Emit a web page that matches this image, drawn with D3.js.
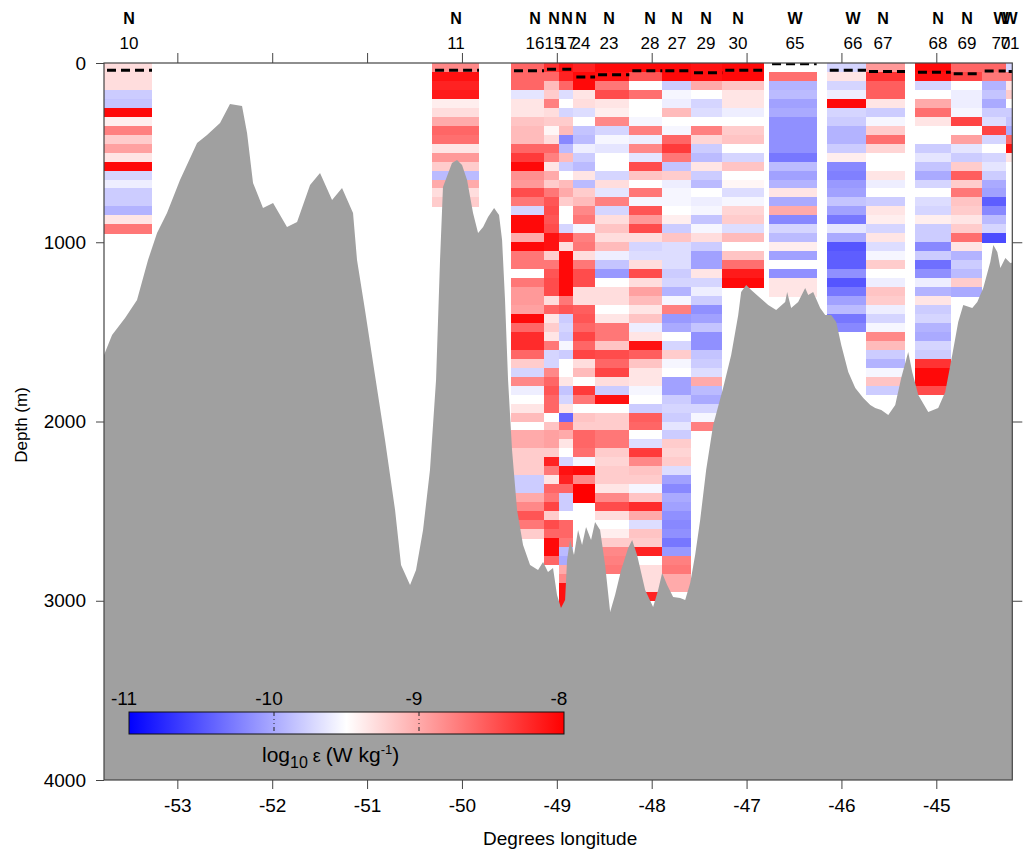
<!DOCTYPE html>
<html>
<head>
<meta charset="utf-8">
<script src="https://cdn.jsdelivr.net/npm/d3@7"></script>
<style>
  html, body { margin: 0; padding: 0; background: #ffffff; }
  svg { display: block; }
  text { font-family: "Liberation Sans", Arial, Helvetica, sans-serif; fill: #000; }
</style>
</head>
<body>
<svg id="chart" width="1024" height="851"></svg>
<script>
// ---- Stations along the section ----
const stationIds   = ["10","11","16","15","17","24","23","28","27","29","30","65","66","67","68","69","70","71"];
const stationTypes = ["N","N","N","N","N","N","N","N","N","N","N","W","W","N","N","N","W","W"];
const stationLon   = [-53.509,-50.063,-49.230,-49.030,-48.893,-48.745,-48.450,-48.018,-47.733,-47.427,-47.090,-46.489,-45.878,-45.562,-44.982,-44.676,-44.318,-44.223];
// longitude span of each profile column
const columnWest   = [-53.773,-50.315,-49.483,-49.135,-48.974,-48.826,-48.597,-48.236,-47.888,-47.586,-47.256,-46.763,-46.155,-45.741,-45.225,-44.848,-44.522,-44.269];
const columnEast   = [-53.267,-49.820,-49.135,-48.974,-48.826,-48.597,-48.236,-47.888,-47.586,-47.256,-46.816,-46.261,-45.741,-45.330,-44.848,-44.522,-44.269,-44.150];
// mixed layer depth (m), dashed line
const mixedLayerDepth = [40,40,43,35,35,78,65,43,43,55,40,4,40,48,52,60,45,48];

// ---- log10 dissipation rate, 50 m bins from the surface ----
const binSize = 50;
const eps10 = [-9.3,-9.3,-9.3,-9.8,-9.85,-8.05,-9.4,-8.75,-9.2,-8.95,-9.35,-8.05,-9.75,-9.6,-9.8,-9.8,-9.95,-9.35,-8.7];
const eps11 = [-8.8,-8.1,-8.2,-8.15,-9.4,-9.3,-9.0,-8.6,-8.65,-9.35,-8.9,-9.2,-9.9,-9.0,-9.3,-9.2];
const eps16 = [-8.6,-8.6,-8.6,-9.65,-9.35,-9.35,-9.15,-9.1,-9.1,-8.6,
               -8.35,-8.05,-8.85,-8.9,-8.45,-8.7,-9.75,-8.05,-8.05,-9.0,
               -8.05,-8.7,-8.7,-9.5,-8.7,-8.9,-8.9,-8.95,-8.05,-8.6,
               -8.25,-8.25,-8.6,-9.2,-9.75,-8.8,-9.6,-9.5,-9.35,-9.1,
               -9.5,-9.0,-9.0,-9.2,-9.2,-9.2,-9.8,-9.8,-9.0,-8.8,
               -8.5,-8.7,-9.2];
const eps15 = [-8.3,-8.6,-9.1,-9.2,-8.75,-9.3,-9.2,-9.45,-9.3,-8.6,
               -8.75,-9.35,-9.0,-9.2,-8.7,-8.5,-8.45,-8.5,-8.45,-8.1,
               -8.1,-9.2,-8.7,-8.5,-8.45,-8.45,-9.3,-8.6,-9.35,-9.2,
               -9.35,-8.7,-9.75,-9.75,-8.8,-8.6,-8.5,-8.6,-8.6,-9.5,
               -9.15,-8.95,-8.95,-9.2,-8.2,-8.7,-9.35,-8.6,-8.7,-8.4,
               -9.2,-8.45,-8.6,-8.05,-8.05,-8.6];
const eps17 = [-8.1,-8.2,-8.6,-9.7,-9.5,-9.75,-9.2,-9.1,-10.2,-9.9,
               -9.1,-9.8,-9.5,-9.1,-9.0,-9.2,-9.5,-9.5,-9.75,-8.35,
               -9.3,-8.05,-8.05,-8.05,-8.05,-8.05,-8.7,-8.5,-9.8,-9.75,
               -9.8,-9.55,-9.8,-9.5,-9.5,-9.35,-9.85,-9.75,-9.35,-10.4,
               -8.7,-9.0,-9.35,-9.5,-9.75,-8.1,-8.2,-8.6,-9.8,-9.8,
               -9.5,-8.6,-8.6,-8.7,-9.9,-10.0,-9.0,-8.8,-8.1,-8.1,
               -8.1];
const eps24 = [-8.2,-8.05,-8.05,-9.35,-9.3,-9.7,-9.5,-9.85,-9.9,-9.6,
               -9.8,-9.9,-9.35,-9.9,-9.2,-9.1,-8.8,-8.7,-9.55,-8.75,
               -8.7,-9.3,-8.7,-8.45,-8.45,-9.3,-9.3,-8.55,-8.5,-8.6,
               -8.4,-8.6,-8.4,-9.3,-9.1,-9.5,-8.35,-8.7,-9.5,-9.15,
               -9.2,-8.6,-8.6,-8.65,-9.55,-8.05,-8.8,-8.0,-8.0];
const eps23 = [-8.05,-8.1,-8.7,-8.45,-9.35,-9.4,-8.8,-9.75,-9.55,-9.65,
               -9.5,-9.5,-9.75,-9.3,-9.65,-8.75,-9.75,-9.3,-9.15,-9.3,
               -9.1,-9.6,-9.85,-10.1,-9.5,-9.3,-9.3,-9.5,-9.35,-8.7,
               -8.7,-9.15,-8.45,-8.6,-8.4,-9.3,-9.8,-8.1,-9.5,-9.2,
               -9.2,-8.7,-8.7,-9.2,-9.25,-9.2,-9.2,-9.35,-8.8,-8.45,
               -9.3,-9.5,-9.4,-9.2,-8.8,-8.75,-8.7];
const eps28 = [-8.05,-8.5,-9.5,-8.65,-9.5,-9.5,-9.55,-8.75,-9.6,-8.8,
               -9.65,-8.45,-9.15,-9.5,-8.7,-9.55,-8.5,-8.9,-8.45,-9.3,
               -9.75,-9.7,-9.3,-8.45,-9.3,-8.95,-9.1,-9.35,-9.15,-9.6,
               -9.35,-8.1,-8.55,-9.15,-9.35,-9.35,-9.55,-9.5,-9.8,-8.55,
               -8.6,-9.5,-9.7,-8.35,-8.8,-9.15,-9.2,-9.55,-9.15,-8.25,
               -9.0,-9.7,-9.15,-9.2,-8.2,-9.5,-9.3,-9.3,-9.3,-8.2];
const eps27 = [-8.05,-8.05,-9.8,-9.55,-9.6,-9.1,-9.5,-9.55,-8.6,-8.35,
               -8.7,-9.85,-9.2,-9.6,-9.55,-9.55,-9.5,-9.4,-9.8,-9.15,
               -9.7,-9.7,-9.7,-9.8,-9.75,-9.95,-9.55,-8.75,-10.1,-10.0,
               -9.5,-9.75,-9.2,-9.55,-9.5,-10.05,-10.05,-9.8,-9.75,-9.8,
               -9.65,-9.8,-9.2,-9.25,-9.2,-9.7,-10.05,-10.2,-10.0,-10.05,
               -10.15,-10.2,-10.15,-10.3,-10.1,-8.75,-8.7,-9.0,-9.0];
const eps29 = [-8.1,-8.1,-9.0,-9.5,-9.75,-9.7,-9.5,-8.75,-9.25,-9.8,
               -9.9,-9.35,-9.8,-9.9,-9.5,-9.6,-9.55,-9.85,-9.55,-9.3,
               -9.8,-10.05,-10.05,-9.35,-9.75,-9.6,-9.8,-10.15,-10.05,-9.85,
               -10.15,-10.15,-9.85,-9.8,-9.7,-9.0,-9.9,-10.0,-9.75,-9.55,
               -8.75];
const eps30 = [-8.05,-8.05,-9.15,-9.35,-9.35,-9.6,-9.5,-9.2,-9.15,-9.5,
               -9.75,-9.15,-9.5,-9.45,-9.7,-9.55,-9.25,-9.2,-9.7,-9.1,
               -9.5,-9.15,-8.65,-8.15,-8.05];
const eps65 = [null,-8.65,-9.95,-9.9,-10.05,-10.0,-10.15,-10.15,-10.15,-10.15,
               -10.3,-9.9,-10.05,-9.95,-9.35,-10.0,-9.0,-10.2,-9.75,-9.9,
               -9.4,-10.05,-9.5,-10.15,-9.35,-9.35];
const eps66 = [-9.75,-9.35,-9.75,-9.6,-8.05,-9.75,-9.8,-9.95,-9.95,-9.8,
               -9.4,-10.2,-10.25,-10.1,-10.05,-9.85,-10.05,-10.3,-9.65,-10.0,
               -10.5,-10.45,-10.45,-10.15,-10.5,-10.3,-10.05,-9.9,-10.3,-10.2];
const eps67 = [-8.9,-8.3,-8.55,-8.55,-9.35,-9.8,-9.55,-9.2,-8.65,-9.25,
               -9.5,-9.5,-9.35,-9.6,-9.5,-9.8,-9.35,-9.4,-9.75,-9.35,
               -9.7,-9.55,-9.2,-9.5,-9.6,-9.15,-9.2,-9.6,-9.75,-9.55,
               -8.8,-9.1,-9.8,-9.95,-9.55,-9.15,-9.8];
const eps68 = [-8.05,-8.1,-9.75,-9.5,-9.0,-8.65,-9.35,-9.5,-9.5,-9.8,
               -9.65,-9.85,-10.0,-9.75,-9.5,-9.7,-9.75,-9.4,-9.8,-9.8,
               -10.2,-9.8,-10.35,-10.15,-9.6,-9.95,-9.35,-9.8,-9.75,-9.95,
               -10.0,-9.75,-9.8,-8.3,-8.05,-8.05,-8.45];
const eps69 = [-8.6,-8.4,-9.5,-9.6,-9.6,-9.55,-8.4,-9.5,-8.95,-9.65,
               -9.8,-9.2,-8.55,-9.2,-8.7,-9.15,-9.2,-9.35,-9.2,-8.65,
               -9.35,-9.95,-9.8,-9.9,-9.2,-10.0];
const eps70 = [-8.6,-8.7,-9.95,-9.85,-10.0,-9.8,-9.7,-8.4,-9.75,-9.5,
               -9.75,-9.65,-9.8,-10.0,-10.05,-10.45,-10.2,-9.9,-9.75,-10.55];
const eps71 = [-9.75,-8.7,-9.35,-9.2,-9.5,-9.8,-9.85,-10.0,-8.6,-8.1,-9.35];
const epsilonProfiles = [eps10,eps11,eps16,eps15,eps17,eps24,eps23,eps28,eps27,eps29,eps30,eps65,eps66,eps67,eps68,eps69,eps70,eps71];

// ---- Seafloor depth along the section ----
const bathyLon = [-53.773,-53.688,-53.551,-53.425,-53.309,-53.214,-53.109,-52.972,-52.792,-52.687,
                  -52.550,-52.445,-52.318,-52.265,-52.202,-52.097,-51.991,-51.844,-51.738,-51.601,
                  -51.496,-51.369,-51.264,-51.148,-51.106,-51.022,-50.917,-50.811,-50.705,-50.642,
                  -50.547,-50.484,-50.410,-50.337,-50.273,-50.231,-50.200,-50.105,-50.052,-49.999,
                  -49.946,-49.883,-49.830,-49.777,-49.725,-49.661,-49.609,-49.577,-49.546,-49.514,
                  -49.472,-49.419,-49.356,-49.282,-49.198,-49.145,-49.093,-49.040,-48.998,-48.956,
                  -48.913,-48.892,-48.861,-48.819,-48.776,-48.734,-48.692,-48.639,-48.597,-48.544,
                  -48.491,-48.438,-48.386,-48.322,-48.248,-48.206,-48.154,-48.069,-47.985,-47.932,
                  -47.890,-47.837,-47.774,-47.700,-47.647,-47.594,-47.542,-47.489,-47.426,-47.352,
                  -47.247,-47.162,-47.088,-47.057,-47.004,-46.951,-46.856,-46.772,-46.688,-46.593,
                  -46.572,-46.530,-46.456,-46.382,-46.350,-46.298,-46.224,-46.171,-46.108,-46.055,
                  -46.002,-45.928,-45.854,-45.770,-45.696,-45.644,-45.580,-45.506,-45.433,-45.370,
                  -45.296,-45.254,-45.190,-45.085,-44.980,-44.906,-44.832,-44.769,-44.716,-44.621,
                  -44.568,-44.505,-44.431,-44.399,-44.357,-44.325,-44.272,-44.220,-44.150];
const bathyDepth = [1629,1517,1423,1322,1099,948,837,653,446,402,
                    335,229,240,391,669,809,781,915,887,681,
                    614,764,697,837,1099,1378,1741,2103,2494,2801,
                    2912,2828,2605,2271,1768,1099,692,558,541,569,
                    653,837,948,915,859,809,848,987,1322,1768,
                    2159,2494,2689,2801,2828,2784,2840,2817,2968,3040,
                    2996,2773,2661,2745,2605,2689,2589,2661,2561,2605,
                    2801,3063,2968,2828,2706,2661,2745,2940,3035,2940,
                    2845,2912,2979,2985,2996,2901,2745,2549,2271,2020,
                    1813,1629,1406,1278,1238,1266,1311,1350,1378,1333,
                    1278,1367,1333,1255,1294,1278,1367,1406,1406,1445,
                    1573,1724,1813,1869,1908,1925,1936,1964,1908,1757,
                    1612,1724,1852,1947,1925,1835,1629,1445,1350,1367,
                    1333,1255,1110,1015,1054,1144,1088,1116,1110];

// ---- Axes and colour bar ----
const lonDomain   = [-53.773, -44.199];
const depthDomain = [0, 4000];
const lonTicks    = [-53,-52,-51,-50,-49,-48,-47,-46,-45];
const depthTicks  = [0,1000,2000,3000,4000];
const rightTicks  = [1000,2000,3000];
const cbarDomain  = [-11, -8];
const cbarTicks   = [-11,-10,-9,-8];
const cbarInnerTicks = [-10,-9];

// ---- Drawing ----
const svg = d3.select("#chart");
const plot = {left: 104, right: 1012.3, top: 63, bottom: 780};

const x = d3.scaleLinear().domain(lonDomain).range([plot.left, plot.right]);
const y = d3.scaleLinear().domain(depthDomain).range([plot.top, plot.bottom]);
const color = d3.scaleLinear()
  .domain([-11, -9.5, -8])
  .range(["#0000ff", "#ffffff", "#ff0000"])
  .clamp(true);

svg.append("rect").attr("width", 1024).attr("height", 851).attr("fill", "#ffffff");

svg.append("defs").append("clipPath").attr("id", "plot-clip")
  .append("rect")
  .attr("x", plot.left).attr("y", plot.top)
  .attr("width", plot.right - plot.left).attr("height", plot.bottom - plot.top);

const stations = stationIds.map((id, i) => ({
  id, type: stationTypes[i], lon: stationLon[i],
  west: columnWest[i], east: columnEast[i],
  mld: mixedLayerDepth[i], eps: epsilonProfiles[i]
}));

const plotArea = svg.append("g").attr("clip-path", "url(#plot-clip)");

// profile columns, one rectangle per depth bin
const cells = [];
stations.forEach(s => {
  s.eps.forEach((v, k) => {
    if (v !== null) cells.push({s, k, v});
  });
});
plotArea.append("g").attr("shape-rendering", "crispEdges")
  .selectAll("rect").data(cells).join("rect")
  .attr("x", d => x(d.s.west))
  .attr("width", d => x(d.s.east) - x(d.s.west))
  .attr("y", d => y(d.k * binSize))
  .attr("height", d => y((d.k + 1) * binSize) - y(d.k * binSize) + 0.5)
  .attr("fill", d => color(d.v));

// mixed layer depth markers
plotArea.append("g").selectAll("line").data(stations).join("line")
  .attr("x1", d => x(d.west) + 3)
  .attr("x2", d => x(d.east))
  .attr("y1", d => y(d.mld))
  .attr("y2", d => y(d.mld))
  .attr("stroke", "#000")
  .attr("stroke-width", 3)
  .attr("stroke-dasharray", "9,5");

// seafloor
const bathy = bathyLon.map((lon, i) => ({lon, depth: bathyDepth[i]}));
plotArea.append("path")
  .datum(bathy)
  .attr("fill", "#a0a0a0")
  .attr("stroke", "none")
  .attr("d", d3.area()
    .x(d => x(d.lon))
    .y0(y(depthDomain[1]))
    .y1(d => y(d.depth)));

// colour bar
const cb = {left: 129, right: 564, top: 712, bottom: 734};
const cbx = d3.scaleLinear().domain(cbarDomain).range([cb.left, cb.right]);
const grad = svg.select("defs").append("linearGradient").attr("id", "eps-grad")
  .attr("x1", "0%").attr("x2", "100%").attr("y1", "0%").attr("y2", "0%");
color.domain().forEach(v => {
  grad.append("stop")
    .attr("offset", ((v - cbarDomain[0]) / (cbarDomain[1] - cbarDomain[0]) * 100) + "%")
    .attr("stop-color", color(v));
});
const cbg = svg.append("g");
cbg.append("rect")
  .attr("x", cb.left).attr("y", cb.top)
  .attr("width", cb.right - cb.left).attr("height", cb.bottom - cb.top)
  .attr("fill", "url(#eps-grad)")
  .attr("stroke", "#111").attr("stroke-width", 1);
cbg.selectAll("line.in").data(cbarInnerTicks).join("line")
  .attr("class", "in")
  .attr("x1", d => cbx(d)).attr("x2", d => cbx(d))
  .attr("y1", cb.top).attr("y2", cb.bottom)
  .attr("stroke", "#222").attr("stroke-width", 1)
  .attr("stroke-dasharray", "4,3,1,3,1,3,4");
cbg.selectAll("text.tl").data(cbarTicks).join("text")
  .attr("class", "tl")
  .attr("x", d => cbx(d) - 5)
  .attr("y", 705)
  .attr("text-anchor", "middle")
  .attr("font-size", 19)
  .text(d => String(d));
const cbLabel = cbg.append("text")
  .attr("x", 262).attr("y", 762)
  .attr("font-size", 21);
cbLabel.append("tspan").text("log");
cbLabel.append("tspan").attr("font-size", 16).attr("dy", 6).text("10");
cbLabel.append("tspan").attr("font-size", 18).attr("dy", -6).text(" \u03B5 ");
cbLabel.append("tspan").text(" (W kg");
cbLabel.append("tspan").attr("font-size", 13).attr("dy", -8).text("-1");
cbLabel.append("tspan").attr("dy", 8).text(")");

// axes
const axisColor = "#444";
function styleAxis(g) {
  g.select(".domain").remove();
  g.selectAll(".tick line").attr("stroke", axisColor);
  g.selectAll(".tick text").attr("fill", "#000").attr("font-size", 19)
    .attr("font-family", "'Liberation Sans', Arial, Helvetica, sans-serif");
}
svg.append("g").attr("transform", `translate(0,${plot.bottom})`)
  .call(d3.axisBottom(x).tickValues(lonTicks).tickSize(9).tickSizeOuter(0).tickPadding(10)
    .tickFormat(d => String(d)))
  .call(styleAxis);
svg.append("g").attr("transform", `translate(0,${plot.top})`)
  .call(d3.axisTop(x).tickValues(lonTicks).tickSize(10).tickSizeOuter(0).tickFormat(""))
  .call(styleAxis);
svg.append("g").attr("transform", `translate(${plot.left},0)`)
  .call(d3.axisLeft(y).tickValues(depthTicks).tickSize(8).tickSizeOuter(0).tickPadding(10)
    .tickFormat(d => String(d)))
  .call(styleAxis);
svg.append("g").attr("transform", `translate(${plot.right},0)`)
  .call(d3.axisRight(y).tickValues(rightTicks).tickSize(10).tickSizeOuter(0).tickFormat(""))
  .call(styleAxis);

// plot frame
svg.append("rect")
  .attr("x", plot.left).attr("y", plot.top)
  .attr("width", plot.right - plot.left).attr("height", plot.bottom - plot.top)
  .attr("fill", "none").attr("stroke", axisColor).attr("stroke-width", 1.2);

// axis titles
svg.append("text")
  .attr("x", (plot.left + plot.right) / 2 + 2).attr("y", 845)
  .attr("text-anchor", "middle").attr("font-size", 19)
  .text("Degrees longitude");
svg.append("text")
  .attr("transform", "translate(27,425) rotate(-90)")
  .attr("text-anchor", "middle").attr("font-size", 17)
  .text("Depth (m)");

// station headers (neighbouring stations overlap where they are close together)
const head = svg.append("g");
head.selectAll("text.type").data(stations).join("text")
  .attr("class", "type")
  .attr("x", d => x(d.lon)).attr("y", 24)
  .attr("text-anchor", "middle")
  .attr("font-size", 16).attr("font-weight", "bold")
  .text(d => d.type);
head.selectAll("text.num").data(stations).join("text")
  .attr("class", "num")
  .attr("x", d => x(d.lon)).attr("y", 49)
  .attr("text-anchor", "middle")
  .attr("font-size", 17)
  .text(d => d.id);
</script>
</body>
</html>
